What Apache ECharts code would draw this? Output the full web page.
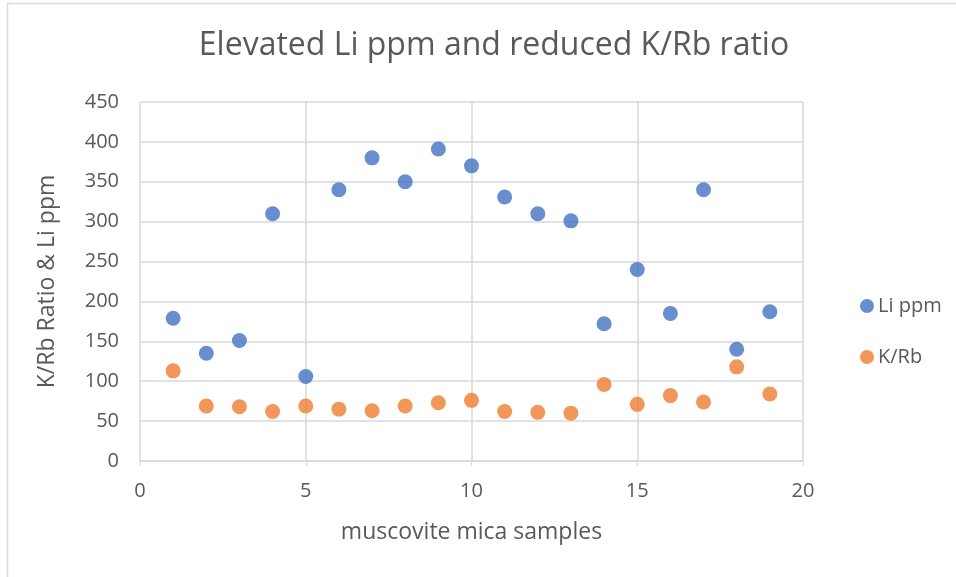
<!DOCTYPE html>
<html><head><meta charset="utf-8">
<script src="https://cdn.jsdelivr.net/npm/echarts@6/dist/echarts.min.js"></script>
<style>html,body{margin:0;padding:0;background:#fff}#c{width:956px;height:577px}</style>
</head><body><div id="c"></div>
<script>
const samples = [1,2,3,4,5,6,7,8,9,10,11,12,13,14,15,16,17,18,19];
const liPpm = [179,135,151,310,106,340,380,350,391,370,331,310,301,172,240,185,340,140,187];
const kRb = [113,69,68,62,69,65,63,69,73,76,62,61,60,96,71,82,74,118,84];
const xTicks = [0,5,10,15,20];
const yTicks = [0,50,100,150,200,250,300,350,400,450];

const chart = echarts.init(document.getElementById('c'), null, {renderer:'canvas'});
const font = '"Open Sans", sans-serif';
const txt = '#595959';
chart.setOption({
  animation:false,
  title:{text:'Elevated Li ppm and reduced K/Rb ratio', left:489, textAlign:'center', top:25,
    textStyle:{fontFamily:font, fontSize:32, fontWeight:'normal', color:txt}},
  graphic:[{type:'polyline', shape:{points:[[7.5,577],[7.5,3.5],[956,3.5]]}, style:{stroke:'#d9d9d9', lineWidth:1.5, fill:null}}],
  legend:{orient:'vertical', left:855, top:291, itemGap:31, itemWidth:14, itemHeight:14,
    textStyle:{fontFamily:font, fontSize:20, color:txt, padding:[0,0,0,-1]},
    data:[{name:'Li ppm', icon:'circle'},{name:'K/Rb', icon:'circle'}]},
  grid:{left:140, right:153, top:102, bottom:116},
  xAxis:{type:'value', min:xTicks[0], max:xTicks[xTicks.length-1], interval:5,
    name:'muscovite mica samples', nameLocation:'middle', nameGap:60,
    nameTextStyle:{fontFamily:font, fontSize:23, color:txt},
    axisLine:{show:true, lineStyle:{color:'#d9d9d9', width:1.5}},
    axisTick:{show:true, length:5, lineStyle:{color:'#d9d9d9'}},
    axisLabel:{fontFamily:font, fontSize:20, color:txt, margin:20},
    splitLine:{show:true, lineStyle:{color:'#d9d9d9', width:1.5}}},
  yAxis:{type:'value', min:yTicks[0], max:yTicks[yTicks.length-1], interval:50,
    name:'K/Rb Ratio & Li ppm', nameLocation:'middle', nameGap:81, nameRotate:90,
    nameTextStyle:{fontFamily:font, fontSize:23, color:txt},
    axisLine:{show:false}, axisTick:{show:false},
    axisLabel:{fontFamily:font, fontSize:20, color:txt, margin:21},
    splitLine:{show:true, lineStyle:{color:'#d9d9d9', width:1.5}}},
  series:[
    {name:'Li ppm', type:'scatter', symbolSize:15, itemStyle:{color:'#4472C4'},
     data:samples.map((s,i)=>[s, liPpm[i]])},
    {name:'K/Rb', type:'scatter', symbolSize:15, itemStyle:{color:'#ED7D31'},
     data:samples.map((s,i)=>[s, kRb[i]])}
  ]
});
</script></body></html>
